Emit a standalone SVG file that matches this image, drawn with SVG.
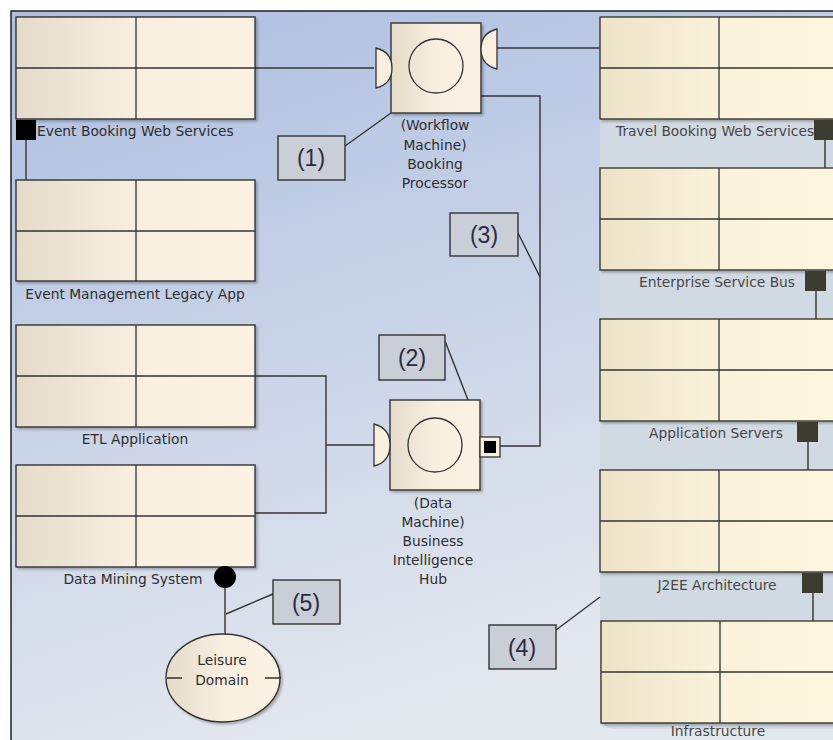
<svg xmlns="http://www.w3.org/2000/svg" width="833" height="740" viewBox="0 0 833 740">
  <defs>
    <linearGradient id="bg" x1="0" y1="0" x2="0.35" y2="1">
      <stop offset="0" stop-color="#adbee1"/>
      <stop offset="1" stop-color="#e3e7ee"/>
    </linearGradient>
    <linearGradient id="beige" x1="0" y1="0" x2="1" y2="0">
      <stop offset="0" stop-color="#e4dbcb"/>
      <stop offset="0.5" stop-color="#f8efe0"/>
      <stop offset="1" stop-color="#fcf2e4"/>
    </linearGradient>
    <linearGradient id="cream" x1="0" y1="0" x2="1" y2="0">
      <stop offset="0" stop-color="#ede3c8"/>
      <stop offset="0.5" stop-color="#fbf2db"/>
      <stop offset="1" stop-color="#fef6df"/>
    </linearGradient>
    <filter id="shadow" x="-5%" y="-5%" width="115%" height="115%">
      <feDropShadow dx="2" dy="2" stdDeviation="1" flood-color="#000" flood-opacity="0.25"/>
    </filter>
  </defs>
  <style>
    .frame { fill: none; stroke: #222; stroke-width: 1.5; }
    .box { fill: url(#beige); stroke: #333; stroke-width: 1.4; filter: url(#shadow); }
    .rbox { fill: url(#cream); stroke: #3a3a30; stroke-width: 1.4; filter: url(#shadow); }
    .grid { stroke: #333; stroke-width: 1.3; fill: none; }
    .lbl { font-family: "DejaVu Sans", Verdana, sans-serif; font-size: 13.8px; fill: #2e2e2e; }
    .rlbl { font-family: "DejaVu Sans", Verdana, sans-serif; font-size: 13.8px; fill: #474747; }
    .mid { text-anchor: middle; }
    .note { fill: #c9ced7; stroke: #333; stroke-width: 1.4; }
    .ntxt { font-family: "Liberation Sans", Arial, sans-serif; font-size: 23px; fill: #2a2a44; text-anchor: middle; }
    .wire { fill: none; stroke: #333; stroke-width: 1.4; }
    .sock { fill: #f8efe0; stroke: #333; stroke-width: 1.3; }
    .port { fill: #3c3c30; }
  </style>

  <!-- canvas -->
  <rect x="0" y="0" width="833" height="740" fill="#ffffff"/>
  <rect x="11" y="11" width="822" height="729" fill="url(#bg)"/>
  <path class="frame" d="M11,740 V11 H833"/>

  <!-- right-hand layered stack panel -->
  <rect x="600" y="17" width="250" height="712" rx="14" fill="#d1d9e3"/>

  <!-- connectors -->
  <g id="connectors">
    <path class="wire" d="M255,68 H374"/>
    <path class="wire" d="M497,48 H600"/>
    <path class="wire" d="M500,446 H540 V96 H481"/>
    <path class="wire" d="M255,376 H326 V513 H255"/>
    <path class="wire" d="M326,445 H374"/>
    <path class="wire" d="M26,140 V180"/>
    <path class="wire" d="M225,588 V634"/>
    <path class="wire" d="M825,140 V168"/>
    <path class="wire" d="M816,291 V319"/>
    <path class="wire" d="M808,442 V470"/>
    <path class="wire" d="M813,593 V621"/>
    <!-- note links -->
    <path class="wire" d="M345,146 L391,113"/>
    <path class="wire" d="M445,341 L468,400"/>
    <path class="wire" d="M518,233 L540,277"/>
    <path class="wire" d="M556,630 L600,597"/>
    <path class="wire" d="M273,594 L226,614"/>
  </g>

  <!-- left column nodes -->
  <g id="event-booking">
    <rect class="box" x="16" y="17" width="239" height="102"/>
    <path class="grid" d="M136,17 V119 M16,68 H255"/>
    <rect x="16" y="120" width="20" height="20" fill="#000"/>
    <text class="lbl" x="37" y="136">Event Booking Web Services</text>
  </g>
  <g id="event-mgmt">
    <rect class="box" x="16" y="180" width="239" height="101"/>
    <path class="grid" d="M136,180 V281 M16,231 H255"/>
    <text class="lbl mid" x="135" y="299">Event Management Legacy App</text>
  </g>
  <g id="etl">
    <rect class="box" x="16" y="325" width="239" height="102"/>
    <path class="grid" d="M136,325 V427 M16,376 H255"/>
    <text class="lbl mid" x="135" y="444">ETL Application</text>
  </g>
  <g id="data-mining">
    <rect class="box" x="16" y="465" width="239" height="102"/>
    <path class="grid" d="M136,465 V567 M16,516 H255"/>
    <circle cx="225" cy="577" r="11" fill="#000"/>
    <text class="lbl mid" x="133" y="584">Data Mining System</text>
  </g>

  <!-- components -->
  <g id="workflow-machine">
    <rect class="box" x="391" y="23" width="90" height="90"/>
    <circle cx="436" cy="66" r="27" fill="none" stroke="#333" stroke-width="1.3"/>
    <path class="sock" d="M376,48 Q392,52 392,68 Q392,84 376,88 Z"/>
    <path class="sock" d="M497,29 Q481,33 481,49 Q481,65 497,69 Z"/>
    <text class="lbl mid" x="435" y="130">(Workflow</text>
    <text class="lbl mid" x="435" y="150">Machine)</text>
    <text class="lbl mid" x="435" y="169">Booking</text>
    <text class="lbl mid" x="435" y="188">Processor</text>
  </g>
  <g id="data-machine">
    <rect class="box" x="390" y="400" width="90" height="90"/>
    <circle cx="435" cy="445" r="27" fill="none" stroke="#333" stroke-width="1.3"/>
    <path class="sock" d="M374,424 Q390,428 390,445 Q390,462 374,466 Z"/>
    <rect x="480" y="437" width="20" height="20" fill="#f8efe0" stroke="#333" stroke-width="1.3"/>
    <rect x="484" y="441" width="12" height="12" fill="#000"/>
    <text class="lbl mid" x="433" y="508">(Data</text>
    <text class="lbl mid" x="433" y="527">Machine)</text>
    <text class="lbl mid" x="433" y="546">Business</text>
    <text class="lbl mid" x="433" y="565">Intelligence</text>
    <text class="lbl mid" x="433" y="584">Hub</text>
  </g>
  <g id="leisure-domain">
    <ellipse cx="223" cy="678" rx="57" ry="44" fill="url(#beige)" stroke="#333" stroke-width="1.4" filter="url(#shadow)"/>
    <path class="grid" d="M167,678 H182 M265,678 H281"/>
    <text class="lbl mid" x="222" y="665">Leisure</text>
    <text class="lbl mid" x="222" y="685">Domain</text>
  </g>

  <!-- right column stack -->
  <g id="travel-booking">
    <rect class="rbox" x="600" y="17" width="250" height="102"/>
    <path class="grid" d="M719,17 V119 M600,68 H833"/>
    <text class="rlbl" x="616" y="136">Travel Booking Web Services</text>
    <rect class="port" x="814" y="120" width="20" height="20"/>
  </g>
  <g id="esb">
    <rect class="rbox" x="600" y="168" width="250" height="102"/>
    <path class="grid" d="M719,168 V270 M600,219 H833"/>
    <text class="rlbl mid" x="717" y="287">Enterprise Service Bus</text>
    <rect class="port" x="805" y="271" width="21" height="20"/>
  </g>
  <g id="app-servers">
    <rect class="rbox" x="600" y="319" width="250" height="102"/>
    <path class="grid" d="M719,319 V421 M600,370 H833"/>
    <text class="rlbl mid" x="716" y="438">Application Servers</text>
    <rect class="port" x="797" y="422" width="21" height="20"/>
  </g>
  <g id="j2ee">
    <rect class="rbox" x="600" y="470" width="250" height="102"/>
    <path class="grid" d="M719,470 V572 M600,521 H833"/>
    <text class="rlbl mid" x="717" y="590">J2EE Architecture</text>
    <rect class="port" x="802" y="573" width="21" height="20"/>
  </g>
  <g id="infrastructure">
    <rect class="rbox" x="601" y="621" width="250" height="102"/>
    <path class="grid" d="M720,621 V723 M601,672 H833"/>
    <text class="rlbl mid" x="718" y="736">Infrastructure</text>
  </g>

  <!-- notes -->
  <g id="note-1">
    <rect class="note" x="278" y="136" width="67" height="44"/>
    <text class="ntxt" x="311" y="166">(1)</text>
  </g>
  <g id="note-2">
    <rect class="note" x="379" y="335" width="66" height="45"/>
    <text class="ntxt" x="412" y="366">(2)</text>
  </g>
  <g id="note-3">
    <rect class="note" x="450" y="213" width="68" height="43"/>
    <text class="ntxt" x="484" y="243">(3)</text>
  </g>
  <g id="note-4">
    <rect class="note" x="489" y="625" width="67" height="44"/>
    <text class="ntxt" x="522" y="656">(4)</text>
  </g>
  <g id="note-5">
    <rect class="note" x="273" y="580" width="67" height="44"/>
    <text class="ntxt" x="306" y="611">(5)</text>
  </g>
</svg>
